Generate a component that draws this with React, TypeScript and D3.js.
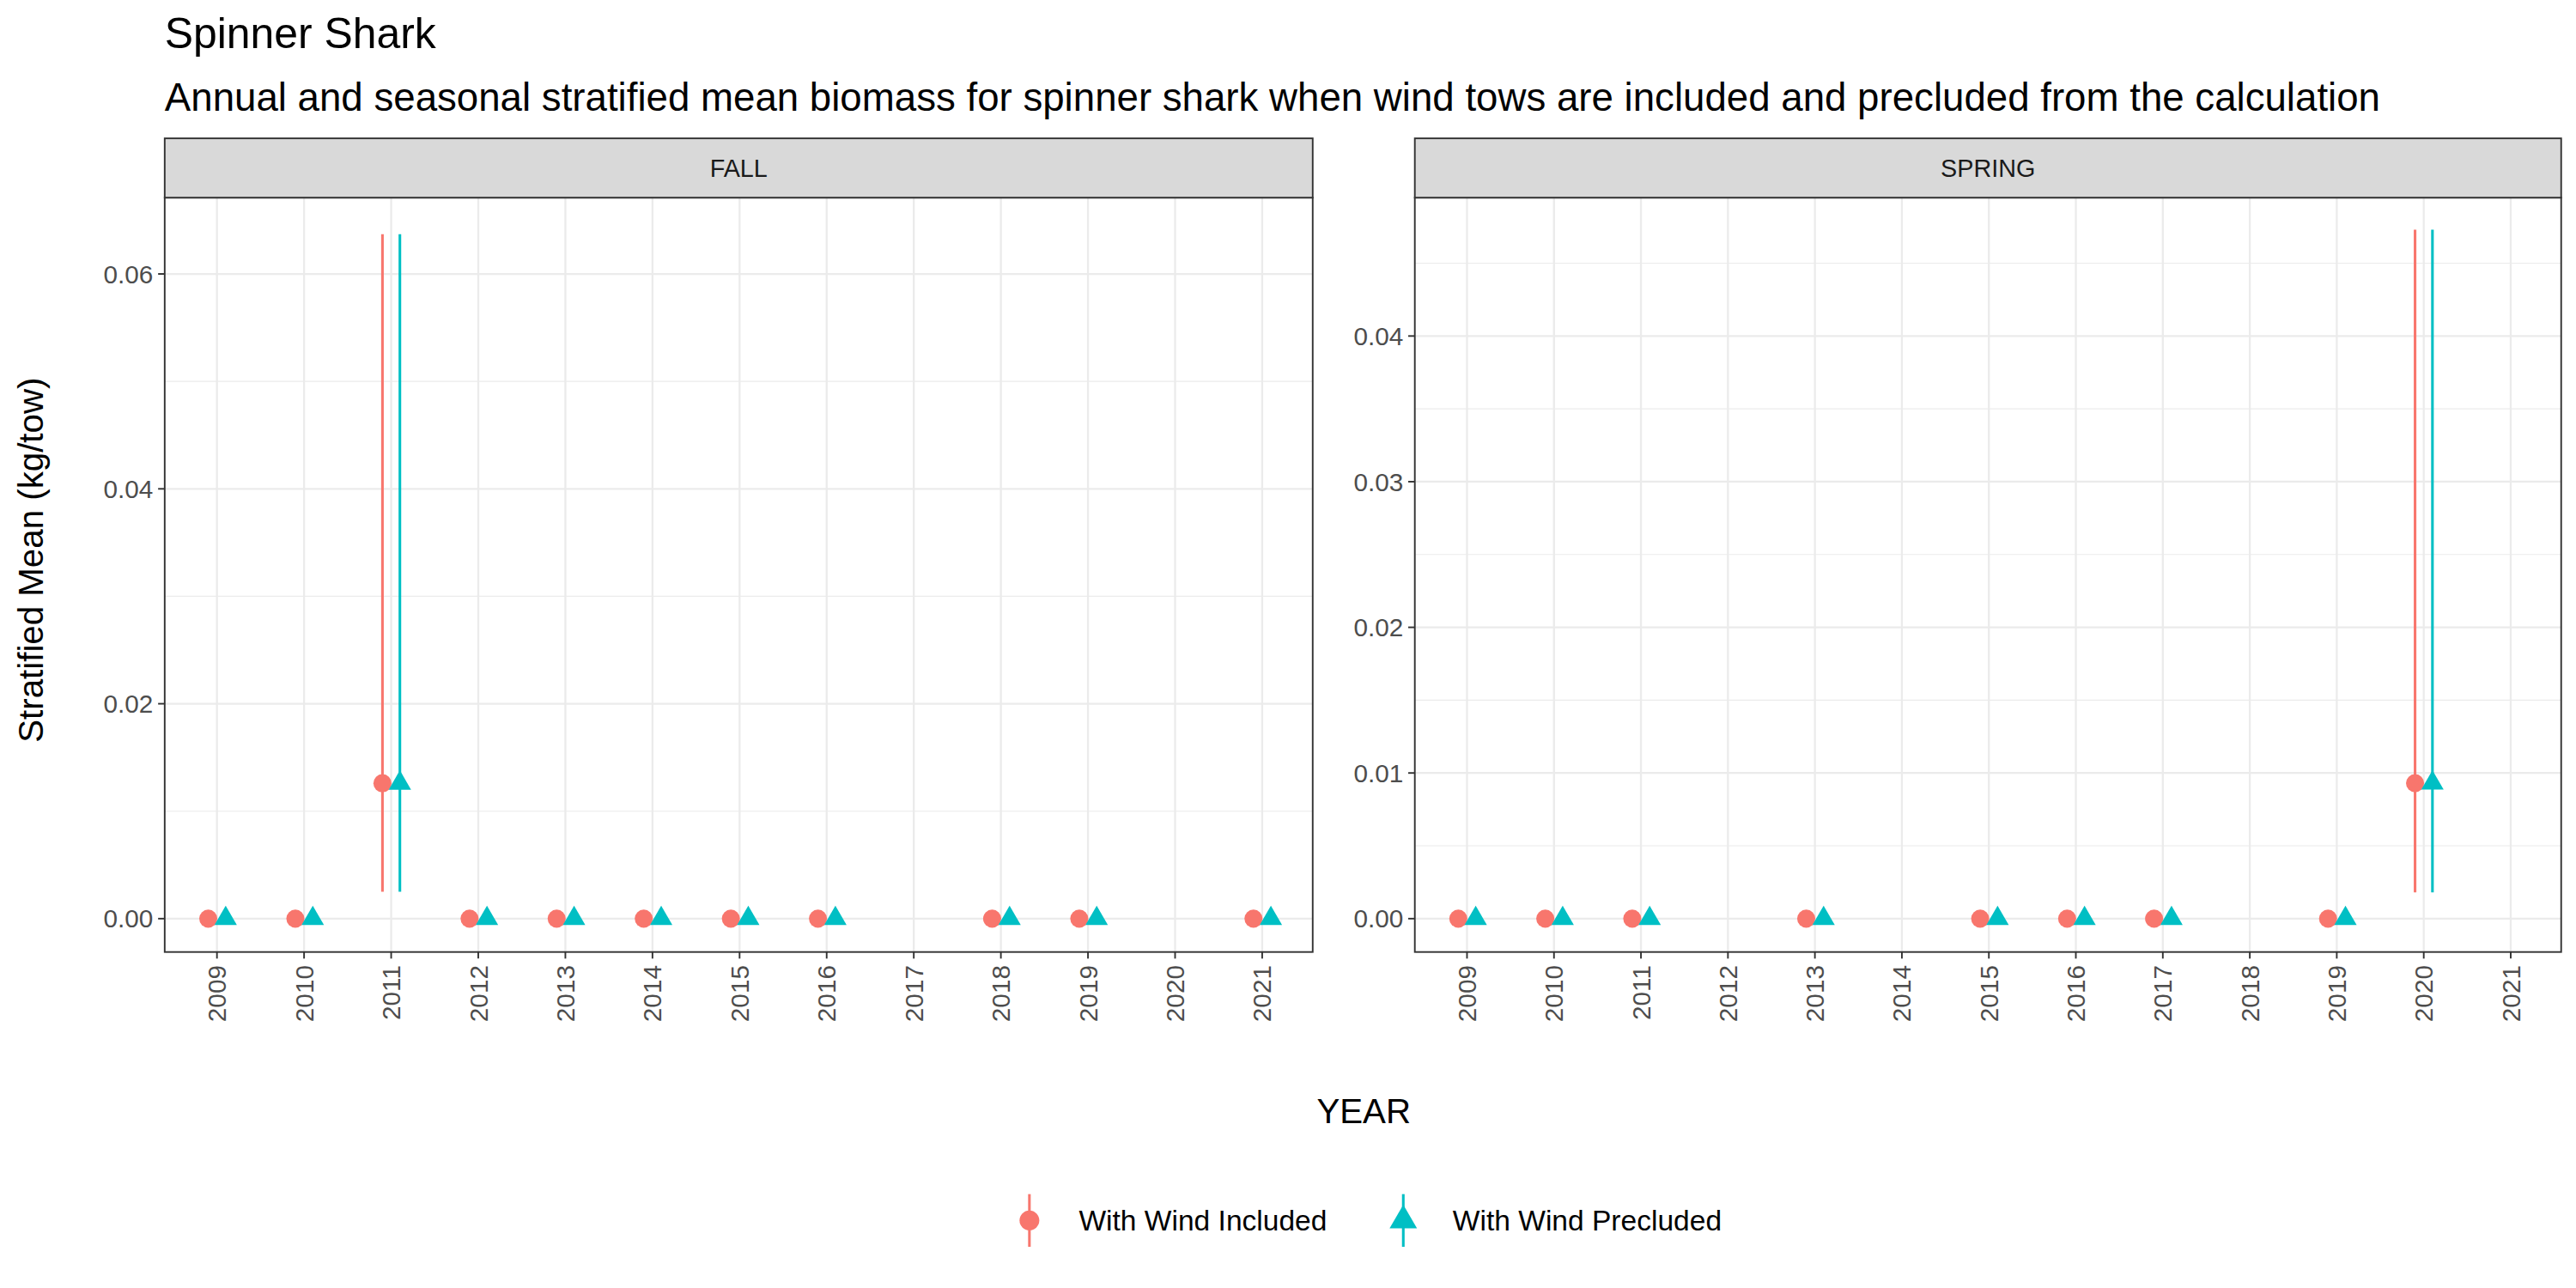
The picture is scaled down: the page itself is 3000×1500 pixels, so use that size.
import React from "react";
import * as d3 from "d3";

const years = d3.range(2009, 2022);
const fallYears = [2009, 2010, 2011, 2012, 2013, 2014, 2015, 2016, 2018, 2019, 2021];
const fallIncluded = [0, 0, 0.0126, 0, 0, 0, 0, 0, 0, 0, 0];
const fallPrecluded = [0, 0, 0.0126, 0, 0, 0, 0, 0, 0, 0, 0];
const fallLo = [0, 0, 0.0025, 0, 0, 0, 0, 0, 0, 0, 0];
const fallHi = [0, 0, 0.0637, 0, 0, 0, 0, 0, 0, 0, 0];
const springYears = [2009, 2010, 2011, 2013, 2015, 2016, 2017, 2019, 2020];
const springIncluded = [0, 0, 0, 0, 0, 0, 0, 0, 0.0093];
const springPrecluded = [0, 0, 0, 0, 0, 0, 0, 0, 0.0093];
const springLo = [0, 0, 0, 0, 0, 0, 0, 0, 0.0018];
const springHi = [0, 0, 0, 0, 0, 0, 0, 0, 0.0473];
const seriesNames = ["With Wind Included", "With Wind Precluded"];
const colors = ["#F8766D", "#00BFC4"];

const FONT = "'Liberation Sans', Arial, sans-serif";

function Panel({ x0, x1, title, yrs, inc, pre, lo, hi, yMax, major, minor, fmt }: any) {
  const top = 120, bottom = 578, stripTop = 84;
  const x = d3.scaleLinear().domain([2008.4, 2021.58]).range([x0, x1]);
  const y = d3.scaleLinear().domain([-0.0031 * (yMax / 0.067), yMax]).range([bottom, top]);
  const series = [inc, pre];
  const tri = d3.symbol(d3.symbolTriangle, 80)()!;
  return (
    <g>
      {minor.map((v: number) => (
        <line key={"m" + v} x1={x0} x2={x1} y1={y(v)} y2={y(v)} stroke="#EBEBEB" strokeWidth={0.6} />
      ))}
      {major.map((v: number) => (
        <line key={"M" + v} x1={x0} x2={x1} y1={y(v)} y2={y(v)} stroke="#EBEBEB" strokeWidth={1.2} />
      ))}
      {years.map((yr) => (
        <line key={"x" + yr} x1={x(yr)} x2={x(yr)} y1={top} y2={bottom} stroke="#EBEBEB" strokeWidth={1.2} />
      ))}
      {series.map((vals: number[], s: number) =>
        yrs.map((yr: number, i: number) => {
          const cx = x(yr + (s === 0 ? -0.1 : 0.1));
          const cy = y(vals[i]);
          return (
            <g key={s + "-" + yr}>
              {hi[i] > lo[i] && (
                <line x1={cx} x2={cx} y1={y(lo[i])} y2={y(hi[i])} stroke={colors[s]} strokeWidth={1.6} />
              )}
              {s === 0 ? (
                <circle cx={cx} cy={cy} r={5.5} fill={colors[0]} />
              ) : (
                <path d={tri} transform={`translate(${cx},${cy})`} fill={colors[1]} />
              )}
            </g>
          );
        })
      )}
      <rect x={x0} y={top} width={x1 - x0} height={bottom - top} fill="none" stroke="#333" strokeWidth={1} />
      <rect x={x0} y={stripTop} width={x1 - x0} height={top - stripTop} fill="#D9D9D9" stroke="#333" strokeWidth={1} />
      <text x={(x0 + x1) / 2} y={(stripTop + top) / 2 + 5.5} textAnchor="middle" fontSize={15} fill="#1A1A1A">{title}</text>
      {major.map((v: number) => (
        <g key={"yt" + v}>
          <line x1={x0 - 4} x2={x0} y1={y(v)} y2={y(v)} stroke="#333" />
          <text x={x0 - 7} y={y(v) + 5.5} textAnchor="end" fontSize={15.5} fill="#4D4D4D">{fmt(v)}</text>
        </g>
      ))}
      {years.map((yr) => (
        <g key={"xt" + yr}>
          <line x1={x(yr)} x2={x(yr)} y1={bottom} y2={bottom + 4} stroke="#333" />
          <text transform={`translate(${x(yr) + 5.5},${bottom + 8}) rotate(-90)`} textAnchor="end" fontSize={15.5} fill="#4D4D4D">{yr}</text>
        </g>
      ))}
    </g>
  );
}

export default function App() {
  const tri = d3.symbol(d3.symbolTriangle, 120)()!;
  return (
    <svg width={3000} height={1500} viewBox="0 0 1564 782" style={{ position: "absolute", left: 0, top: 0, background: "#fff" }} fontFamily={FONT}>
      <rect width={1564} height={782} fill="#fff" />
      <text x={100} y={29} fontSize={26}>Spinner Shark</text>
      <text x={100} y={67} fontSize={23.8}>Annual and seasonal stratified mean biomass for spinner shark when wind tows are included and precluded from the calculation</text>
      <Panel x0={100} x1={797} title="FALL" yrs={fallYears} inc={fallIncluded} pre={fallPrecluded} lo={fallLo} hi={fallHi}
        yMax={0.0671} major={[0, 0.02, 0.04, 0.06]} minor={[0.01, 0.03, 0.05]} fmt={d3.format(".2f")} />
      <Panel x0={859} x1={1555} title="SPRING" yrs={springYears} inc={springIncluded} pre={springPrecluded} lo={springLo} hi={springHi}
        yMax={0.0495} major={[0, 0.01, 0.02, 0.03, 0.04]} minor={[0.005, 0.015, 0.025, 0.035, 0.045]} fmt={d3.format(".2f")} />
      <text x={828} y={682} textAnchor="middle" fontSize={21}>YEAR</text>
      <text transform="translate(26,340) rotate(-90)" textAnchor="middle" fontSize={21}>Stratified Mean (kg/tow)</text>
      {seriesNames.map((n, i) => {
        const cx = i === 0 ? 625 : 852;
        return (
          <g key={n}>
            <line x1={cx} x2={cx} y1={725} y2={757} stroke={colors[i]} strokeWidth={1.6} />
            {i === 0 ? <circle cx={cx} cy={741} r={6} fill={colors[0]} /> : <path d={tri} transform={`translate(${cx},${741})`} fill={colors[1]} />}
            <text x={cx + 30} y={747} fontSize={17.5}>{n}</text>
          </g>
        );
      })}
    </svg>
  );
}
